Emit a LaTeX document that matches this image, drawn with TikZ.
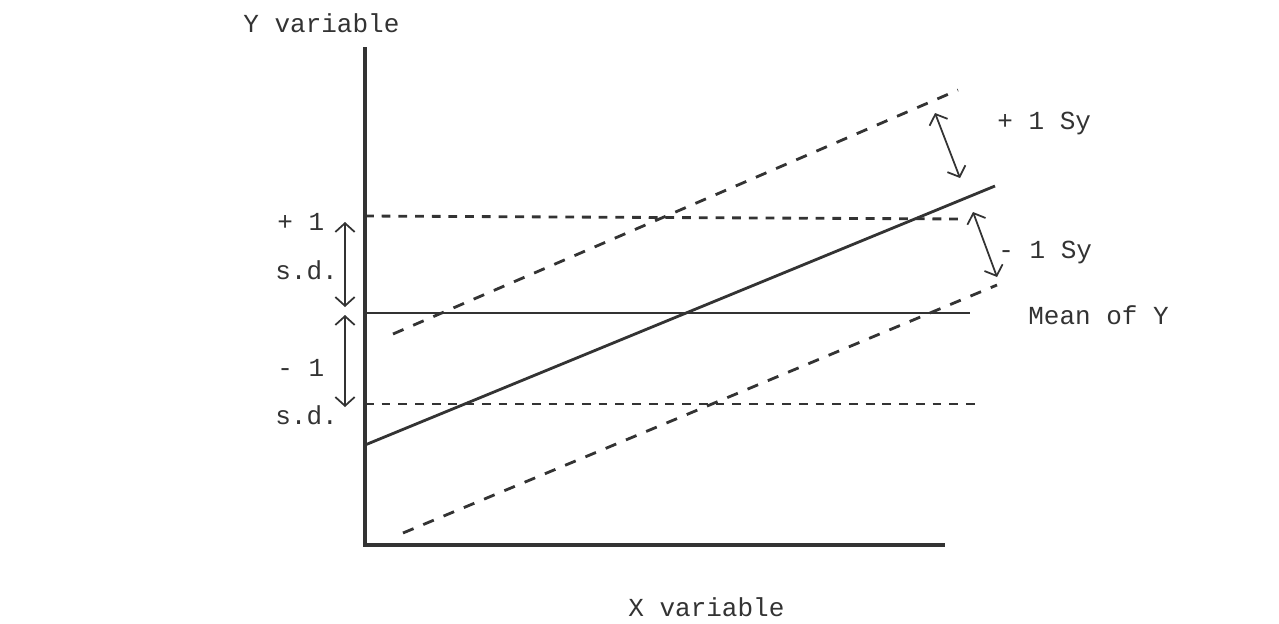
\documentclass[tikz,border=0pt]{standalone}
\usepackage{fontspec}
\setmonofont{Liberation Mono}
\usetikzlibrary{arrows.meta}
\definecolor{ink}{rgb}{0.2,0.2,0.2}
\begin{document}
\begin{tikzpicture}[x=0.02cm,y=-0.02cm,>={Straight Barb[length=5pt,width=11pt]},
    lbl/.style={font=\ttfamily\fontsize{14.8}{18}\selectfont,text=ink,inner sep=0pt,anchor=west},
    axis/.style={draw=ink,line width=2pt},
    fitline/.style={draw=ink,line width=1.6pt},
    band/.style={draw=ink,line width=1.6pt,dash pattern=on 6.5pt off 6pt},
    sdline/.style={draw=ink,line width=1.6pt,dash pattern=on 5pt off 4.5pt},
    gap/.style={draw=ink,line width=1pt,<->}]
    \useasboundingbox (0,0) rectangle (1279,623);
    \coordinate (O) at (365,545);
    \coordinate (Ytop) at (365,47);
    \coordinate (Xend) at (945,545);
    \coordinate (MeanL) at (365,313);
    \coordinate (MeanR) at (970,313);
    \coordinate (SdUpL) at (365,216);
    \coordinate (SdUpR) at (965,219);
    \coordinate (SdLoL) at (365,404);
    \coordinate (SdLoR) at (978,404);
    \coordinate (RegL) at (365,445);
    \coordinate (RegR) at (995,186);
    \coordinate (BandUpL) at (393,334);
    \coordinate (BandUpR) at (958,90);
    \coordinate (BandLoL) at (403,533);
    \coordinate (BandLoR) at (997,285);
    \node[lbl] (YL) at (243,23) {Y variable};
    \node[lbl] (XL) at (628,607) {X variable};
    \node[lbl] (P1) at (277,222) {+ 1};
    \node[lbl] (SD1) at (275,270) {s.d.};
    \node[lbl] (M1) at (277,368) {- 1};
    \node[lbl] (SD2) at (275,415) {s.d.};
    \node[lbl] (PSy) at (997,123) {+ 1 Sy};
    \node[lbl] (MSy) at (998,252) {- 1 Sy};
    \node[lbl] (MY) at (1028,315) {Mean of Y};
    \draw[axis] (Ytop) -- (O) -- (Xend);
    \draw[fitline] (MeanL) -- (MeanR);
    \draw[fitline] (RegL) -- (RegR);
    \draw[sdline] (SdUpL) -- (SdUpR);
    \draw[sdline] (SdLoL) -- (SdLoR);
    \draw[band] (BandUpL) -- (BandUpR);
    \draw[band] (BandLoL) -- (BandLoR);
    \coordinate (A1) at (345,222);
    \coordinate (A2) at (345,307);
    \coordinate (A3) at (345,315);
    \coordinate (A4) at (345,407);
    \coordinate (B1) at (935,113);
    \coordinate (B2) at (960,178);
    \coordinate (B3) at (973,212);
    \coordinate (B4) at (997,277);
    \draw[gap] (A1) -- (A2);
    \draw[gap] (A3) -- (A4);
    \draw[gap] (B1) -- (B2);
    \draw[gap] (B3) -- (B4);
\end{tikzpicture}
\end{document}
